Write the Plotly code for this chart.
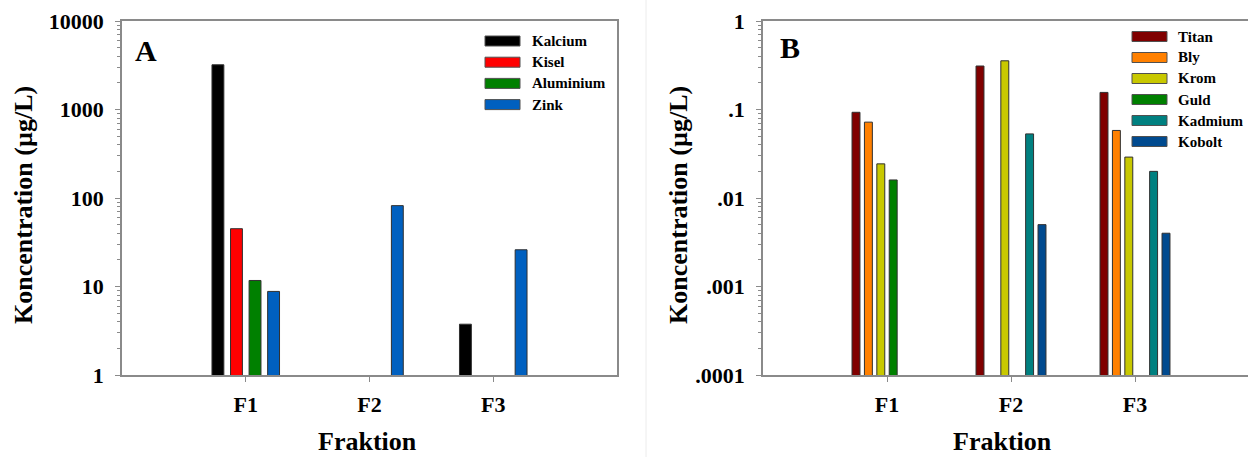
import plotly.graph_objects as go

W, H = 1248, 457

# ---------------- data ----------------
fractions = ["F1", "F2", "F3"]

series_a = ["Kalcium", "Kisel", "Aluminium", "Zink"]
kalcium = [3200, None, 3.75]
kisel = [45, None, None]
aluminium = [11.7, None, None]
zink = [8.8, 82, 26]
values_a = [kalcium, kisel, aluminium, zink]
colors_a = ["#000000", "#ff0000", "#008000", "#0060c0"]

series_b = ["Titan", "Bly", "Krom", "Guld", "Kadmium", "Kobolt"]
titan = [0.093, 0.31, 0.156]
bly = [0.072, None, 0.058]
krom = [0.0243, 0.355, 0.029]
guld = [0.016, None, None]
kadmium = [None, 0.053, 0.020]
kobolt = [None, 0.0050, 0.0040]
values_b = [titan, bly, krom, guld, kadmium, kobolt]
colors_b = ["#800000", "#ff8000", "#c8c800", "#008000", "#008080", "#004a8f"]

yticks_a = [1, 10, 100, 1000, 10000]
yticklabels_a = ["1", "10", "100", "1000", "10000"]
yticks_b = [0.0001, 0.001, 0.01, 0.1, 1]
yticklabels_b = [".0001", ".001", ".01", ".1", "1"]

ytitle = "Koncentration (µg/L)"
xtitle = "Fraktion"

# ---------------- helpers ----------------
FONT = "Liberation Serif"


def px_x(p):
    return p / W


def px_y(p):
    return 1 - p / H


fig = go.Figure()

for name, vals, col in zip(series_a, values_a, colors_a):
    fig.add_trace(go.Bar(x=fractions, y=vals, name=name, marker_color=col,
                         marker_line=dict(color="#303030", width=1),
                         xaxis="x", yaxis="y", showlegend=False))
for name, vals, col in zip(series_b, values_b, colors_b):
    fig.add_trace(go.Bar(x=fractions, y=vals, name=name, marker_color=col,
                         marker_line=dict(color="#303030", width=1),
                         xaxis="x2", yaxis="y2", showlegend=False))

axcol = "#8a8a8a"
tickfont = dict(family=FONT, size=22, color="black", weight="bold")


def minor_vals(lo, hi):
    out = []
    for d in range(lo, hi):
        for k in range(2, 10):
            out.append(k * 10 ** d)
    return out


ydom = [px_y(375), px_y(21)]

common_x = dict(type="category", showline=True, linecolor=axcol,
                linewidth=1.5, mirror=True, ticks="outside", ticklen=5,
                tickcolor=axcol, tickfont=tickfont, ticklabelstandoff=4,
                showgrid=False, zeroline=False, automargin=False)
common_y = dict(type="log", showline=True, linecolor=axcol, linewidth=1.5,
                ticks="outside", ticklen=5, tickcolor=axcol,
                tickfont=tickfont, ticklabelstandoff=7, showgrid=False,
                zeroline=False, automargin=False)

fig.update_layout(
    template="none",
    width=W, height=H,
    margin=dict(l=0, r=0, t=0, b=0, autoexpand=False),
    paper_bgcolor="white", plot_bgcolor="white",
    barmode="group", bargap=0.4, bargroupgap=0.36,
    showlegend=False,
    xaxis=dict(domain=[px_x(122), px_x(617)], range=[-1, 3], anchor="y",
               **common_x),
    yaxis=dict(domain=ydom, range=[0, 4], mirror=True, anchor="x",
               tickvals=yticks_a, ticktext=yticklabels_a,
               minor=dict(tickvals=minor_vals(0, 4), ticks="outside",
                          ticklen=3, tickcolor=axcol, showgrid=False),
               **common_y),
    xaxis2=dict(domain=[px_x(763), 1.0],
                range=[-1, (1248 - 763) / 124.0 - 1], anchor="y2",
                **common_x),
    yaxis2=dict(domain=ydom, range=[-4, 0], mirror=False, anchor="x2",
                tickvals=yticks_b, ticktext=yticklabels_b,
                minor=dict(tickvals=minor_vals(-4, 0), ticks="outside",
                           ticklen=3, tickcolor=axcol, showgrid=False),
                **common_y),
)

shapes = []
annotations = []

# divider between panels
shapes.append(dict(type="line", xref="paper", yref="paper",
                   x0=px_x(646), x1=px_x(646), y0=0, y1=1,
                   line=dict(color="#ececec", width=1)))

titlefont = dict(family=FONT, size=26, color="black", weight="bold")
# axis titles
for cx in (23, 678):
    annotations.append(dict(text=ytitle, xref="paper", yref="paper",
                            x=px_x(cx), y=px_y(205), textangle=-90,
                            showarrow=False, font=titlefont,
                            xanchor="center", yanchor="middle"))
for cx in (367, 1002):
    annotations.append(dict(text=xtitle, xref="paper", yref="paper",
                            x=px_x(cx), y=px_y(441), showarrow=False,
                            font=titlefont, xanchor="center",
                            yanchor="middle"))

# panel letters
panelfont = dict(family=FONT, size=30, color="black", weight="bold")
annotations.append(dict(text="A", xref="paper", yref="paper",
                        x=px_x(146), y=px_y(50), showarrow=False,
                        font=panelfont, xanchor="center", yanchor="middle"))
annotations.append(dict(text="B", xref="paper", yref="paper",
                        x=px_x(790), y=px_y(48), showarrow=False,
                        font=panelfont, xanchor="center", yanchor="middle"))

# custom legends
legfont = dict(family=FONT, size=15, color="black", weight="bold")


def legend(names, cols, sx0, sx1, tx, y0, dy, sh):
    for i, (n, c) in enumerate(zip(names, cols)):
        yc = y0 + i * dy
        shapes.append(dict(type="rect", xref="paper", yref="paper",
                           x0=px_x(sx0), x1=px_x(sx1),
                           y0=px_y(yc - sh / 2), y1=px_y(yc + sh / 2),
                           fillcolor=c, line=dict(color="#505050", width=1)))
        annotations.append(dict(text=n, xref="paper", yref="paper",
                                x=px_x(tx), y=px_y(yc), showarrow=False,
                                font=legfont, xanchor="left",
                                yanchor="middle"))


legend(series_a, colors_a, 485, 520, 530, 41, 21.2, 10)
legend(series_b, colors_b, 1132, 1167, 1176, 36.5, 21.0, 10)

fig.update_layout(shapes=shapes, annotations=annotations)

fig.write_html("out.html")
